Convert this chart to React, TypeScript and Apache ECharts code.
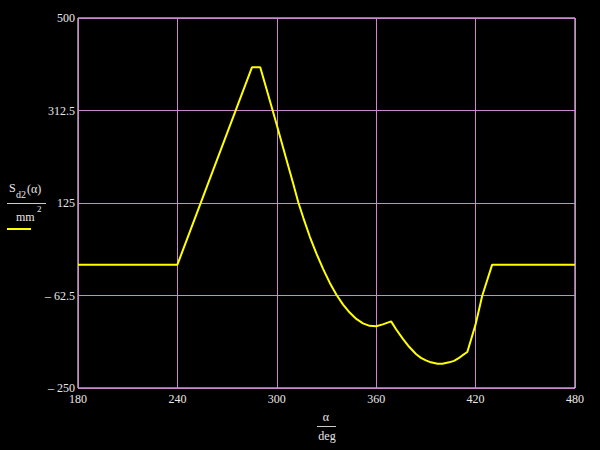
import React, { useEffect, useRef } from "react";
import * as echarts from "echarts";

const alphaDeg = [180, 240, 285, 290, 295, 297.5, 300, 305, 310, 313, 316, 320, 324, 328, 332, 336, 340, 344, 348, 352, 356, 360, 364, 369, 372, 376, 380, 384, 387, 390, 393, 397, 400, 404, 407, 410, 412, 415, 420, 424, 430, 480];
const sd2 = [0, 0, 400, 400, 342, 312.5, 283, 223, 163, 126, 95, 56, 22, -9, -37, -61, -81, -97, -110, -119, -124, -125, -121, -115, -131, -150, -167, -181, -189, -194, -198, -201, -201, -198, -195, -189, -184, -177, -121, -63, 0, 0];
const xTicks = [180, 240, 300, 360, 420, 480];
const yTicks = [-250, -62.5, 125, 312.5, 500];

const FONT = "'Liberation Serif', 'DejaVu Serif', serif";
const TXT = "#e8e8e8";

export default function App() {
  const ref = useRef<HTMLDivElement>(null);
  useEffect(() => {
    if (!ref.current) return;
    const chart = echarts.init(ref.current, undefined, { renderer: "svg" });
    const data = alphaDeg.map((a, i) => [a, sd2[i]]);
    const fmt = (v: number) => (v < 0 ? "\u2013 " + Math.abs(v) : String(v));
    chart.setOption({
      animation: false,
      backgroundColor: "#000",
      grid: { left: 78, right: 25, top: 18, bottom: 62, show: true, borderColor: "#ffffff", borderWidth: 1, backgroundColor: "transparent" },
      xAxis: {
        type: "value",
        min: xTicks[0],
        max: xTicks[xTicks.length - 1],
        interval: 60,
        axisLine: { show: false },
        axisTick: { show: false },
        axisLabel: { color: TXT, fontFamily: FONT, fontSize: 12, margin: 5 },
        splitLine: { show: true, lineStyle: { color: "#cc88cc", width: 1 } },
      },
      yAxis: {
        type: "value",
        min: yTicks[0],
        max: yTicks[yTicks.length - 1],
        interval: 187.5,
        axisLine: { show: false },
        axisTick: { show: false },
        axisLabel: { color: TXT, fontFamily: FONT, fontSize: 12, margin: 3, formatter: fmt },
        splitLine: { show: true, lineStyle: { color: "#cc88cc", width: 1 } },
      },
      series: [
        {
          type: "line",
          data,
          showSymbol: false,
          smooth: false,
          lineStyle: { color: "#ffff00", width: 2 },
          z: 5,
        },
      ],
      graphic: [
        { type: "text", x: 9, y: 182, style: { text: "S", fill: TXT, font: `12px ${FONT}` } },
        { type: "text", x: 16, y: 189, style: { text: "d2", fill: TXT, font: `10px ${FONT}` } },
        { type: "text", x: 27, y: 183, style: { text: "(\u03b1)", fill: TXT, font: `12px ${FONT}` } },
        { type: "line", shape: { x1: 7, y1: 203.5, x2: 46, y2: 203.5 }, style: { stroke: "#cccccc", lineWidth: 1 } },
        { type: "text", x: 16, y: 211, style: { text: "mm", fill: TXT, font: `12px ${FONT}` } },
        { type: "text", x: 37, y: 204, style: { text: "2", fill: TXT, font: `9px ${FONT}` } },
        { type: "line", shape: { x1: 7, y1: 229, x2: 31, y2: 229 }, style: { stroke: "#ffff00", lineWidth: 2 } },
        { type: "text", x: 326, y: 417, style: { text: "\u03b1", fill: TXT, font: `12px ${FONT}`, textAlign: "center", textVerticalAlign: "middle" } },
        { type: "line", shape: { x1: 317, y1: 426.5, x2: 336, y2: 426.5 }, style: { stroke: "#cccccc", lineWidth: 1 } },
        { type: "text", x: 327, y: 436, style: { text: "deg", fill: TXT, font: `12px ${FONT}`, textAlign: "center", textVerticalAlign: "middle" } },
      ],
    });
    return () => chart.dispose();
  }, []);
  return <div ref={ref} style={{ width: 600, height: 450, position: "fixed", left: 0, top: 0 }} />;
}
